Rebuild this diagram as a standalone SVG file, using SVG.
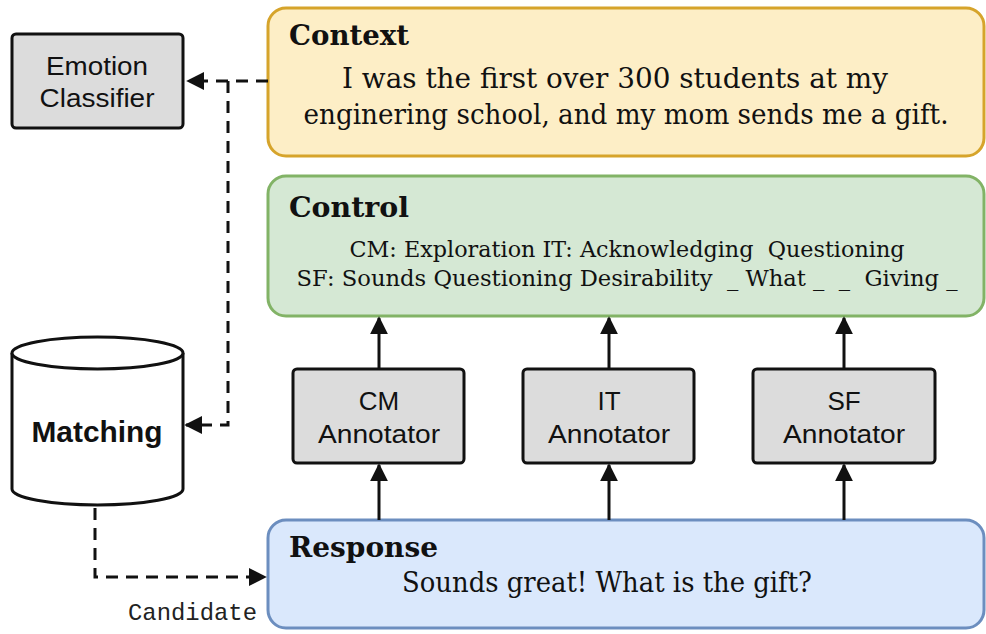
<svg xmlns="http://www.w3.org/2000/svg" width="986" height="634" viewBox="0 0 986 634">
<style>
.sans{font-family:"Liberation Sans",Arial,sans-serif;fill:#111}
.serif{font-family:"DejaVu Serif","Liberation Serif",serif;fill:#111;white-space:pre}
.title{font-family:"DejaVu Serif","Liberation Serif",serif;font-weight:bold;fill:#111}
.gray{fill:#dcdcdc;stroke:#111;stroke-width:3}
.solid{stroke:#111;stroke-width:3;fill:none}
.dash{stroke:#111;stroke-width:3;fill:none;stroke-dasharray:12 8}
</style>
<defs>
<marker id="ah" viewBox="0 0 10 10" refX="9" refY="5" markerWidth="6" markerHeight="6" markerUnits="strokeWidth" orient="auto">
<path d="M0,0 L10,5 L0,10 z" fill="#111"/>
</marker>
</defs>
<g id="emotion">
<rect class="gray" x="12" y="34" width="171" height="94" rx="4"/>
<text class="sans" x="97" y="75" font-size="26" text-anchor="middle" textLength="102" lengthAdjust="spacingAndGlyphs">Emotion</text>
<text class="sans" x="97" y="107" font-size="26" text-anchor="middle" textLength="115" lengthAdjust="spacingAndGlyphs">Classifier</text>
</g>
<g id="context">
<rect x="268" y="8" width="716" height="148" rx="18" fill="#fdeec6" stroke="#d6a42b" stroke-width="3"/>
<text class="title" x="289" y="45" font-size="27" textLength="120" lengthAdjust="spacingAndGlyphs">Context</text>
<text class="serif" x="615" y="88" font-size="27" text-anchor="middle" textLength="546" lengthAdjust="spacingAndGlyphs">I was the first over 300 students at my</text>
<text class="serif" x="626" y="124" font-size="27" text-anchor="middle" textLength="645" lengthAdjust="spacingAndGlyphs">enginering school, and my mom sends me a gift.</text>
</g>
<g id="control">
<rect x="268" y="176" width="716" height="140" rx="18" fill="#d5e8d4" stroke="#82b366" stroke-width="3"/>
<text class="title" x="289" y="217" font-size="27" textLength="120" lengthAdjust="spacingAndGlyphs">Control</text>
<text class="serif" x="627" y="257" font-size="23" text-anchor="middle" textLength="555" lengthAdjust="spacingAndGlyphs">CM: Exploration IT: Acknowledging  Questioning</text>
<text class="serif" x="627" y="286" font-size="23" text-anchor="middle" textLength="661" lengthAdjust="spacingAndGlyphs">SF: Sounds Questioning Desirability  _ What _  _  Giving _</text>
</g>
<g id="cm">
<rect class="gray" x="293" y="369" width="171" height="94" rx="4"/>
<text class="sans" x="379" y="410" font-size="26" text-anchor="middle">CM</text>
<text class="sans" x="379" y="443" font-size="26" text-anchor="middle" textLength="122" lengthAdjust="spacingAndGlyphs">Annotator</text>
</g>
<g id="it">
<rect class="gray" x="523" y="369" width="171" height="94" rx="4"/>
<text class="sans" x="609" y="410" font-size="26" text-anchor="middle">IT</text>
<text class="sans" x="609" y="443" font-size="26" text-anchor="middle" textLength="122" lengthAdjust="spacingAndGlyphs">Annotator</text>
</g>
<g id="sf">
<rect class="gray" x="753" y="369" width="182" height="94" rx="4"/>
<text class="sans" x="844" y="410" font-size="26" text-anchor="middle">SF</text>
<text class="sans" x="844" y="443" font-size="26" text-anchor="middle" textLength="122" lengthAdjust="spacingAndGlyphs">Annotator</text>
</g>
<g id="response">
<rect x="268" y="520" width="716" height="108" rx="18" fill="#dae8fc" stroke="#6c8ebf" stroke-width="3"/>
<text class="title" x="289" y="557" font-size="27" textLength="149" lengthAdjust="spacingAndGlyphs">Response</text>
<text class="serif" x="607" y="592" font-size="27" text-anchor="middle" textLength="410" lengthAdjust="spacingAndGlyphs">Sounds great! What is the gift?</text>
</g>
<g id="matching">
<path d="M12,353 L12,489 A85.5,16 0 0 0 183,489 L183,353" fill="#fff" stroke="#111" stroke-width="3"/>
<ellipse cx="97.5" cy="353" rx="85.5" ry="16" fill="#fff" stroke="#111" stroke-width="3"/>
<text class="sans" x="97" y="442" font-size="29" font-weight="bold" text-anchor="middle" textLength="131" lengthAdjust="spacingAndGlyphs">Matching</text>
</g>
<g id="connectors">
<path class="dash" d="M268,81 L188,81" marker-end="url(#ah)"/>
<path class="dash" d="M228,81 L228,425 L186,425" marker-end="url(#ah)"/>
<path class="dash" d="M95,508 L95,577 L265,577" marker-end="url(#ah)"/>
<path class="solid" d="M379,369 L379,318" marker-end="url(#ah)"/>
<path class="solid" d="M609,369 L609,318" marker-end="url(#ah)"/>
<path class="solid" d="M844,369 L844,318" marker-end="url(#ah)"/>
<path class="solid" d="M379,520 L379,465" marker-end="url(#ah)"/>
<path class="solid" d="M609,520 L609,465" marker-end="url(#ah)"/>
<path class="solid" d="M844,520 L844,465" marker-end="url(#ah)"/>
<text x="257" y="620" font-family="'Liberation Mono','Courier New',monospace" font-size="24" fill="#222" text-anchor="end" textLength="129" lengthAdjust="spacingAndGlyphs">Candidate</text>
</g>
</svg>
